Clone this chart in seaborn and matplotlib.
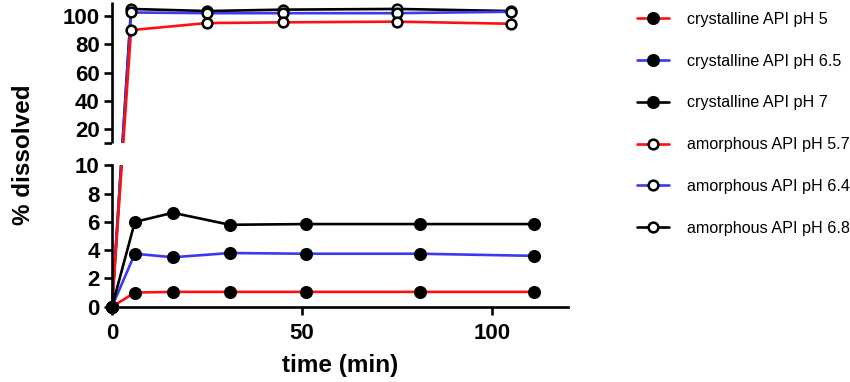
import numpy as np
import matplotlib
matplotlib.use("Agg")
import matplotlib.pyplot as plt
import seaborn as sns

# ---- data ----
t_cryst = [0, 6, 16, 31, 51, 81, 111]
cryst_ph5 = [0, 1.0, 1.05, 1.05, 1.05, 1.05, 1.05]
cryst_ph65 = [0, 3.75, 3.5, 3.8, 3.75, 3.75, 3.6]
cryst_ph7 = [0, 6.0, 6.65, 5.8, 5.85, 5.85, 5.85]

t_amorph = [0, 5, 25, 45, 75, 105]
amorph_ph57 = [0, 90, 95, 95.5, 96, 94.5]
amorph_ph64 = [0, 102.5, 102, 102, 102, 103]
amorph_ph68 = [0, 105, 103.5, 104.5, 105, 103.5]

labels = ["crystalline API pH 5", "crystalline API pH 6.5", "crystalline API pH 7",
          "amorphous API pH 5.7", "amorphous API pH 6.4", "amorphous API pH 6.8"]

yticks_lower = [0, 2, 4, 6, 8, 10]
yticks_upper = [20, 40, 60, 80, 100]
xticks = [0, 50, 100]

RED = "#ff1010"
BLUE = "#3a3af0"
BLACK = "#000000"

sns.set_style("ticks")
plt.rcParams["font.family"] = ["Liberation Sans", "DejaVu Sans"]
plt.rcParams["text.color"] = "black"
plt.rcParams["axes.labelcolor"] = "black"
plt.rcParams["xtick.color"] = "black"
plt.rcParams["ytick.color"] = "black"
plt.rcParams["axes.edgecolor"] = "black"

BREAK = 10.0
GAP = 1.58      # gap between the two y segments (in lower-segment units)
UP_FACTOR = 0.1  # upper segment compressed 10x


def fwd(y):
    y = np.asarray(y, dtype=float)
    return np.where(y <= BREAK, y, BREAK + GAP + (y - BREAK) * UP_FACTOR)


def inv(t):
    t = np.asarray(t, dtype=float)
    return np.where(t <= BREAK, t,
                    np.where(t < BREAK + GAP, BREAK,
                             BREAK + (t - BREAK - GAP) / UP_FACTOR))


fig = plt.figure(figsize=(8.5, 3.82), dpi=100)
ax = fig.add_axes([0.1318, 0.1971, 0.5365, 0.798])
ax.set_yscale("function", functions=(fwd, inv))

LW = 1.9
series = [
    (t_cryst, cryst_ph5, RED, "black", 3.0),
    (t_cryst, cryst_ph65, BLUE, "black", 3.1),
    (t_cryst, cryst_ph7, BLACK, "black", 3.2),
    (t_amorph, amorph_ph57, RED, "white", 2.9),
    (t_amorph, amorph_ph64, BLUE, "white", 2.8),
    (t_amorph, amorph_ph68, BLACK, "white", 2.7),
]
for (tx, vals, col, face, z), lab in zip(series, labels):
    filled = face == "black"
    sns.lineplot(x=tx, y=vals, ax=ax, color=col, linewidth=LW,
                 marker="o",
                 markersize=8.4 if filled else 7.0,
                 markerfacecolor=face, markeredgecolor="black",
                 markeredgewidth=1.0 if filled else 1.8,
                 label=lab, clip_on=False, zorder=z, sort=False)

ax.set_xlim(0, 120)
ax.set_ylim(0, 110)

# white-out the break region
ax.axhspan(BREAK, BREAK + 1e-4, color="white", lw=0, zorder=6)

ax.set_yticks(yticks_lower + yticks_upper)
ax.set_yticklabels([str(v) for v in yticks_lower + yticks_upper])
ax.set_yticks([BREAK + 1e-4], minor=True)
ax.set_xticks(xticks)
ax.set_xticklabels([str(v) for v in xticks])

for lbl in ax.get_xticklabels() + ax.get_yticklabels():
    lbl.set_fontweight("bold")
    lbl.set_fontsize(16)
    lbl.set_color("black")

ax.tick_params(axis="both", which="both", direction="out", length=6,
               width=LW, color="black", labelcolor="black")
ax.tick_params(axis="y", which="both", pad=3)
ax.tick_params(axis="x", which="major", pad=6)

sns.despine(ax=ax)
ax.spines["left"].set_visible(False)
ax.spines["bottom"].set_linewidth(LW)
ax.spines["bottom"].set_color("black")

# broken left spine
ytr = ax.get_yaxis_transform()
ax.plot([0, 0], [0, BREAK], transform=ytr, color="black", lw=LW,
        clip_on=False, solid_capstyle="projecting", zorder=7)
ax.plot([0, 0], [BREAK + 1e-4, 110], transform=ytr, color="black", lw=LW,
        clip_on=False, solid_capstyle="butt", zorder=7)

ax.set_xlabel("time (min)", fontsize=17.5, fontweight="bold", labelpad=7,
              color="black")
ax.set_ylabel("% dissolved", fontsize=17.5, fontweight="bold", labelpad=20,
              color="black")

handles, labs = ax.get_legend_handles_labels()
leg = ax.legend(handles[:6], labs[:6], loc="upper left",
                bbox_to_anchor=(637 / 850, 1 - 12 / 382),
                bbox_transform=fig.transFigure,
                frameon=False, fontsize=11.6, labelspacing=1.66,
                handlelength=2.0, handletextpad=1.1, borderpad=0,
                borderaxespad=0)
for txt in leg.get_texts():
    txt.set_color("black")

fig.savefig("out.png", dpi=100, facecolor="white")
